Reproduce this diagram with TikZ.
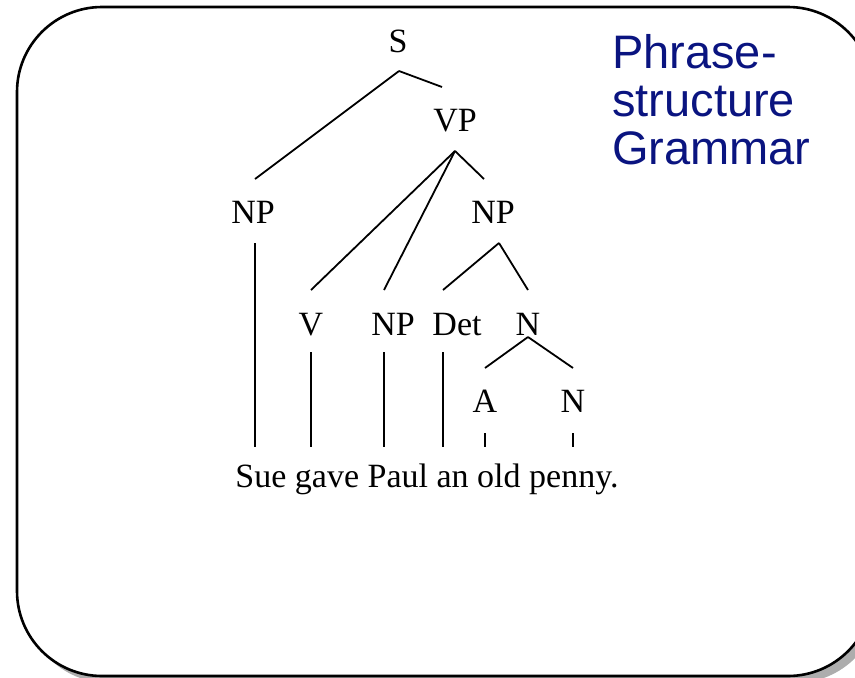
\documentclass[tikz,border=0pt]{standalone}
\usepackage{fontspec}
\setmainfont{Liberation Serif}
\newfontfamily\titlefont{Liberation Sans}
\usepackage{xcolor}
\usepackage{tikz}
\usetikzlibrary{positioning}
\definecolor{titleblue}{RGB}{10,20,128}

\begin{document}
\begin{tikzpicture}[
		x=1pt, y=-1pt,
		font=\fontsize{34}{36}\selectfont,
		cat/.style={anchor=base, inner sep=0pt},
		branch/.style={line width=1.8pt},
		frame/.style={line width=2.6pt, rounded corners=85pt, fill=white},
		title/.style={anchor=north west, inner sep=0pt, align=left, text=titleblue,
			font=\titlefont\fontsize{47}{48}\selectfont}
		]
		\useasboundingbox (0,0) rectangle (855,678);
		\clip (0,0) rectangle (855,678);
		
		% Slide frame with shadow
		\fill[black!32, rounded corners=85pt] (24,13) rectangle (880,683);
		\draw[frame] (17,7) rectangle (873,676);
		
		% Title
		\node[title] (heading) at (612,34) {Phrase-\\structure\\Grammar};
		
		% Categories
		\node[cat] (S) at (398,52) {S};
		\node[cat] (VP) at (455,131) {VP};
		\node[cat] (NPsubj) at (253,223) {NP};
		\node[cat] (NPobj) at (493,223) {NP};
		\node[cat] (V) at (311,335) {V};
		\node[cat] (NPind) at (393,335) {NP};
		\node[cat] (Det) at (457,335) {Det};
		\node[cat] (Nbar) at (528,335) {N};
		\node[cat] (A) at (485,412) {A};
		\node[cat] (N) at (573,412) {N};
		\node[cat] (sentence) at (427,487) {Sue gave Paul an old penny.};
		
		% Branch ends
		\coordinate (S-foot) at (399,71);
		\coordinate (VP-foot) at (455,151);
		\coordinate (NPobj-foot) at (499,243);
		\coordinate (Nbar-foot) at (528,337);
		\coordinate (NPsubj-top) at (255,179);
		\coordinate (VP-top) at (442,87);
		\coordinate (NPobj-top) at (484,179);
		\coordinate (V-top) at (311,290);
		\coordinate (NPind-top) at (384,290);
		\coordinate (Det-top) at (443,290);
		\coordinate (Nbar-top) at (528,290);
		\coordinate (A-top) at (485,368);
		\coordinate (N-top) at (573,368);
		
		% Word attachments
		\coordinate (NPsubj-foot) at (255,243);
		\coordinate (V-foot) at (311,352);
		\coordinate (NPind-foot) at (384,352);
		\coordinate (Det-foot) at (443,352);
		\coordinate (A-foot) at (485,433);
		\coordinate (N-foot) at (573,433);
		\coordinate (Sue) at (255,447);
		\coordinate (gave) at (311,447);
		\coordinate (Paul) at (384,447);
		\coordinate (an) at (443,447);
		\coordinate (old) at (485,447);
		\coordinate (penny) at (573,447);
		
		% Tree branches
		\foreach \a/\b in {S-foot/NPsubj-top, S-foot/VP-top, VP-foot/V-top, VP-foot/NPind-top,
			VP-foot/NPobj-top, NPobj-foot/Det-top, NPobj-foot/Nbar-top, Nbar-foot/A-top, Nbar-foot/N-top,
			NPsubj-foot/Sue, V-foot/gave, NPind-foot/Paul, Det-foot/an, A-foot/old, N-foot/penny}
		\draw[branch] (\a) -- (\b);
	\end{tikzpicture}
\end{document}
